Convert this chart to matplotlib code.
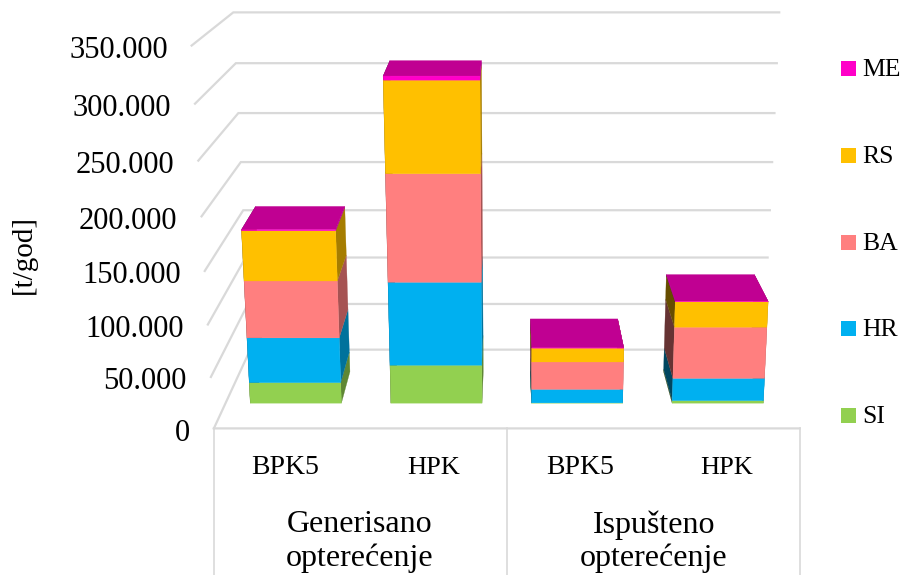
import numpy as np
import matplotlib
matplotlib.use("Agg")
import matplotlib.pyplot as plt
from matplotlib.patches import Polygon, Rectangle

# ---------- data (t/god) ----------
bar_labels = ["BPK5", "HPK", "BPK5", "HPK"]
groups = ["Generisano\nopterećenje", "Ispušteno\nopterećenje"]
series_names = ["SI", "HR", "BA", "RS", "ME"]
SI = [20800, 38300, 300, 2600]
HR = [44800, 81900, 13700, 22500]
BA = [55900, 103400, 27600, 51100]
RS = [48300, 85900, 13800, 25000]
ME = [1100, 3700, 300, 500]
series = [SI, HR, BA, RS, ME]
yticks = [0, 50000, 100000, 150000, 200000, 250000, 300000, 350000]
ymax = 350000

# ---------- style ----------
colors = ["#92D050", "#00B0F0", "#FF7F7F", "#FFC000", "#FF00C8"]
top_color = "#C00092"
grid_color = "#D9D9D9"
FONT = "Liberation Serif"
plt.rcParams["font.family"] = FONT

# ---------- perspective camera: world (u, v, d) -> pixel ----------
world = np.array([(0, 0, 0), (1, 0, 0), (0, 1, 0), (1, 1, 0),
                  (0, 0, 1), (1, 0, 1), (0, 1, 1), (1, 1, 1)], float)
pixel = np.array([(213, 428), (800, 428), (192, 46), (821, 46),
                  (251, 350), (763, 350), (233, 12), (779, 12)], float)
A, b = [], []
for (u, v, d), (px, py) in zip(world, pixel):
    A.append([u, v, d, 1, 0, 0, 0, 0, -px*u, -px*v, -px*d])
    A.append([0, 0, 0, 0, u, v, d, 1, -py*u, -py*v, -py*d])
    b += [px, py]
h = np.linalg.lstsq(np.array(A), np.array(b), rcond=None)[0]
P = np.array([h[:4], h[4:8], [h[8], h[9], h[10], 1.0]])


def proj(u, value, d):
    p = P @ np.array([u, value / ymax, d, 1.0])
    return p[0] / p[2], p[1] / p[2]


def shade(c, f):
    r, g, bb = matplotlib.colors.to_rgb(c)
    return (r * f, g * f, bb * f)


fig = plt.figure(figsize=(9.01, 5.75), dpi=100)
ax = fig.add_axes([0, 0, 1, 1])
ax.set_xlim(0, 901)
ax.set_ylim(575, 0)
ax.axis("off")

# ---------- grid ----------
for t in yticks:
    x0, y0 = proj(0, t, 0)
    x1, y1 = proj(0, t, 1)
    x2, y2 = proj(1, t, 1)
    ax.plot([x0, x1, x2], [y0, y1, y2], color=grid_color, lw=1.6,
            solid_joinstyle="miter", zorder=1)
    ax.text(x0 - 24, y0 + 1.5, f"{t:,}".replace(",", "."), ha="right",
            va="center_baseline", fontsize=22, color="black")
xa, ya = proj(0, 0, 0)
xb, yb = proj(1, 0, 0)
ax.plot([xa, xb], [ya, yb], color=grid_color, lw=1.6, zorder=1)
xm = (xa + xb) / 2
for x in (xa, xm, xb):
    ax.plot([x, x], [ya, 575], color=grid_color, lw=1.2, zorder=1)

# ---------- stacked 3D bars ----------
d0, d1 = 0.292, 0.693
bar_w = 0.162
n = len(bar_labels)
z = 2
for i in range(n):
    uc = (i + 0.5) / n
    ul, ur = uc - bar_w / 2, uc + bar_w / 2
    base = 0
    faces = []
    for s, c in zip(series, colors):
        top = base + s[i]
        faces.append(([proj(ul, base, d0), proj(ul, top, d0),
                       proj(ul, top, d1), proj(ul, base, d1)], shade(c, 0.40)))
        faces.append(([proj(ur, base, d0), proj(ur, top, d0),
                       proj(ur, top, d1), proj(ur, base, d1)], shade(c, 0.65)))
        base = top
    faces.append(([proj(ul, base, d0), proj(ur, base, d0),
                   proj(ur, base, d1), proj(ul, base, d1)], top_color))
    base = 0
    for s, c in zip(series, colors):
        top = base + s[i]
        faces.append(([proj(ul, base, d0), proj(ur, base, d0),
                       proj(ur, top, d0), proj(ul, top, d0)], c))
        base = top
    for pts, col in faces:
        ax.add_patch(Polygon(pts, closed=True, facecolor=col, edgecolor=col,
                             lw=0.2, zorder=z))
        z += 1

# ---------- axis text ----------
ax.text(24, 255, "[t/god]", rotation=90, ha="center", va="center", fontsize=21)
label_x = [285, 434, 580, 727]
label_size = [20, 19, 20, 19]
for x, lab, fs in zip(label_x, bar_labels, label_size):
    ax.text(x, 468, lab, ha="center", va="center", fontsize=fs)
for x, g in zip([360, 654], groups):
    l1, l2 = g.split("\n")
    ax.text(x, 525, l1, ha="center", va="center", fontsize=23)
    ax.text(x, 558, l2, ha="center", va="center", fontsize=23)

# ---------- legend ----------
legend_y = [415.5, 328.5, 242, 155.5, 68.5]
for name, c, y in zip(series_names, colors, legend_y):
    ax.add_patch(Rectangle((841, y - 7.5), 15, 15, facecolor=c, edgecolor="none"))
    ax.text(862, y + 1.5, name, ha="left", va="center", fontsize=18.5)

fig.savefig("out.png", dpi=100)
